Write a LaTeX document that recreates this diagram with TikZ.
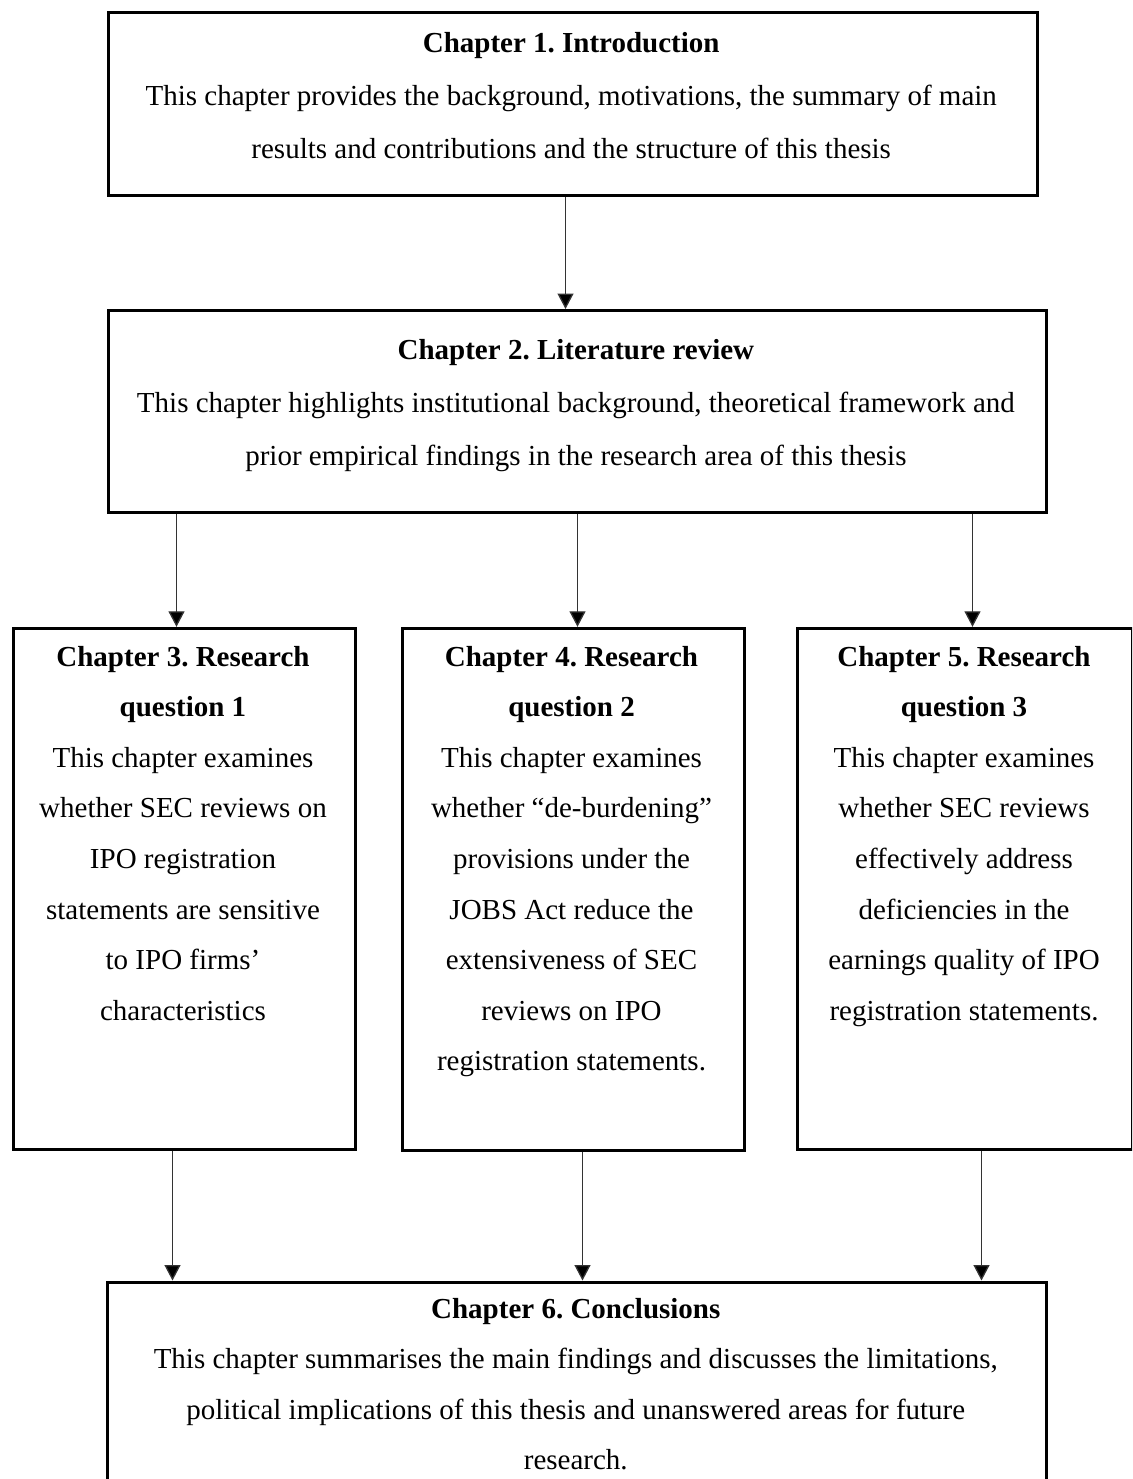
\documentclass[tikz,border=0pt]{standalone}
\usepackage{fontspec}
\setmainfont{Liberation Serif}
\usetikzlibrary{arrows.meta}
\frenchspacing

\tikzset{
  chapbox/.style={draw=black, line width=3pt, inner sep=0pt, anchor=north west},
  % multi-line texts are placed by the baseline of their last line
  wide text/.style={align=center, anchor=base, inner sep=0pt,
    font=\fontsize{29}{53}\selectfont},
  narrow text/.style={align=center, anchor=base, inner sep=0pt,
    font=\fontsize{29}{50.6}\selectfont},
  flow/.style={draw=black!80, line width=1.3pt,
    -{Triangle[width=16pt,length=15.5pt,fill=black]}},
}

\begin{document}
\begin{tikzpicture}[x=1pt, y=-1pt]
  \useasboundingbox (0,0) rectangle (1132,1479);
  \clip (0,0) rectangle (1132,1479);

  % chapter frames
  \node[chapbox, minimum width=929.5pt, minimum height=183.5pt] (c1) at (106.5,10.7) {};
  \node[chapbox, minimum width=938.8pt, minimum height=202.2pt] (c2) at (106.5,309) {};
  \node[chapbox, minimum width=342.4pt, minimum height=520.7pt] (c3) at (11.8,626.8) {};
  \node[chapbox, minimum width=342pt,   minimum height=522.5pt] (c4) at (400.5,626.8) {};
  \node[chapbox, minimum width=334.2pt, minimum height=520.7pt] (c5) at (796.3,626.8) {};
  \node[chapbox, minimum width=938.9pt, minimum height=240pt]   (c6) at (106.3,1280.5) {};

  % chapter texts
  \node[wide text] (t1) at (571.2,159) {\textbf{Chapter 1. Introduction}\\
    This chapter provides the background, motivations, the summary of main\\
    results and contributions and the structure of this thesis};
  \node[wide text] (t2) at (575.9,465) {\textbf{Chapter 2. Literature review}\\
    This chapter highlights institutional background, theoretical framework and\\
    prior empirical findings in the research area of this thesis};
  \node[narrow text] (t3) at (183,1020.2) {\textbf{Chapter 3. Research}\\
    \textbf{question 1}\\
    This chapter examines\\
    whether SEC reviews on\\
    IPO registration\\
    statements are sensitive\\
    to IPO firms’\\
    characteristics};
  \node[narrow text] (t4) at (571.5,1070.8) {\textbf{Chapter 4. Research}\\
    \textbf{question 2}\\
    This chapter examines\\
    whether “de-burdening”\\
    provisions under the\\
    JOBS Act reduce the\\
    extensiveness of SEC\\
    reviews on IPO\\
    registration statements.};
  \node[narrow text] (t5) at (964,1020.2) {\textbf{Chapter 5. Research}\\
    \textbf{question 3}\\
    This chapter examines\\
    whether SEC reviews\\
    effectively address\\
    deficiencies in the\\
    earnings quality of IPO\\
    registration statements.};
  \node[narrow text] (t6) at (575.8,1469.8) {\textbf{Chapter 6. Conclusions}\\
    This chapter summarises the main findings and discusses the limitations,\\
    political implications of this thesis and unanswered areas for future\\
    research.};

  % connectors
  \draw[flow] ([xshift=459pt]c1.south west)   -- ([xshift=459pt]c2.north west);
  \draw[flow] ([xshift=70pt]c2.south west)    -- ([xshift=164.7pt]c3.north west);
  \draw[flow] ([xshift=471pt]c2.south west)   -- ([xshift=177pt]c4.north west);
  \draw[flow] ([xshift=866pt]c2.south west)   -- ([xshift=176.2pt]c5.north west);
  \draw[flow] ([xshift=160.7pt]c3.south west) -- ([xshift=66.2pt]c6.north west);
  \draw[flow] ([xshift=182pt]c4.south west)   -- ([xshift=476.2pt]c6.north west);
  \draw[flow] ([xshift=185.2pt]c5.south west) -- ([xshift=875.2pt]c6.north west);
\end{tikzpicture}
\end{document}
